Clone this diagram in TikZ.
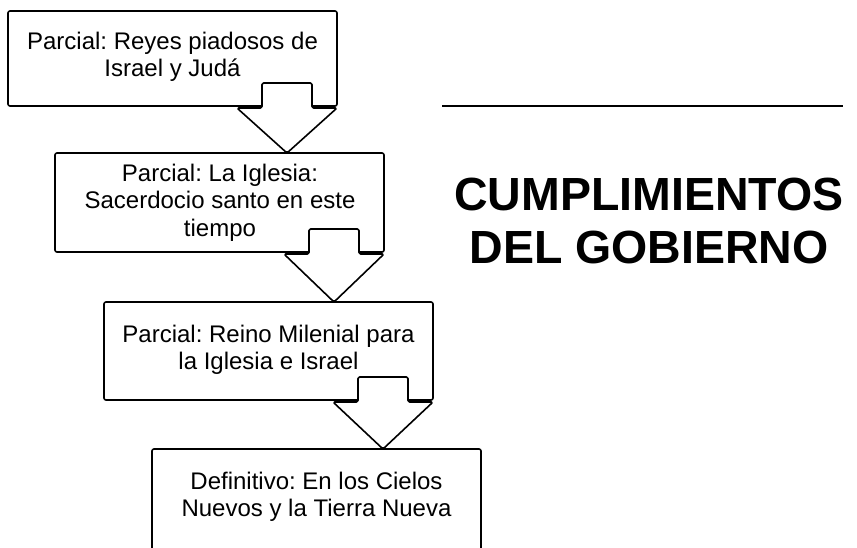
\documentclass[tikz,border=0pt]{standalone}
\usepackage{fontspec}
\setmainfont{Liberation Sans}
\usetikzlibrary{calc}
\frenchspacing
\tikzset{
  box/.style={draw, line width=1.6pt, rounded corners=2pt, fill=white, minimum width=329pt, inner sep=0pt, outer sep=0pt, anchor=north west},
  boxtext/.style={font=\fontsize{24}{27.5}\selectfont, align=center, anchor=base, inner sep=0pt},
  downarrow/.style={draw, line width=1.6pt, fill=white, rounded corners=1.5pt, line join=round},
  titletext/.style={font=\fontsize{46.5}{53}\selectfont\bfseries, align=center, anchor=base, inner sep=0pt},
  rulestyle/.style={line width=2pt}
}
\begin{document}
\begin{tikzpicture}[x=1pt,y=-1pt]
\clip (0,0) rectangle (857,547);
\fill[white] (0,0) rectangle (857,547);
% boxes
\node[box, minimum height=95pt] (b1) at (8,11) {};
\node[box, minimum height=99pt] (b2) at (55,153) {};
\node[box, minimum height=98pt] (b3) at (104,302) {};
\node[box, minimum height=120pt] (b4) at (152,449) {};
% arrow tips
\coordinate (t1) at ($(b1.south east)+(-50,0)$);
\coordinate (t2) at ($(b2.south east)+(-50,0)$);
\coordinate (t3) at ($(b3.south east)+(-50,0)$);
% arrows
\draw[downarrow] ($(b1.south east)+(-75,2)$) -- ++(0,-25) -- ++(50,0) -- ++(0,25) -- ++(25,0) -- (t1 |- b2.north) -- ($(b1.south east)+(-100,2)$) -- cycle;
\draw[downarrow] ($(b2.south east)+(-75,2)$) -- ++(0,-25) -- ++(50,0) -- ++(0,25) -- ++(25,0) -- (t2 |- b3.north) -- ($(b2.south east)+(-100,2)$) -- cycle;
\draw[downarrow] ($(b3.south east)+(-75,2)$) -- ++(0,-25) -- ++(50,0) -- ++(0,25) -- ++(25,0) -- (t3 |- b4.north) -- ($(b3.south east)+(-100,2)$) -- cycle;
% texts (anchored at the baseline of the last line)
\node[boxtext] (x1) at (172.5,76.5) {Parcial: Reyes piadosos de\\Israel y Judá};
\node[boxtext] (x2) at (220,236) {Parcial: La Iglesia:\\Sacerdocio santo en este\\tiempo};
\node[boxtext] (x3) at (268.5,369.5) {Parcial: Reino Milenial para\\la Iglesia e Israel};
\node[boxtext] (x4) at (316.5,516.5) {Definitivo: En los Cielos\\Nuevos y la Tierra Nueva};
% title
\node[titletext] (title) at (649,263) {CUMPLIMIENTOS\\DEL GOBIERNO};
% rule
\coordinate (r1) at (442,106);
\coordinate (r2) at (843,106);
\draw[rulestyle] (r1) -- (r2);
\end{tikzpicture}
\end{document}
